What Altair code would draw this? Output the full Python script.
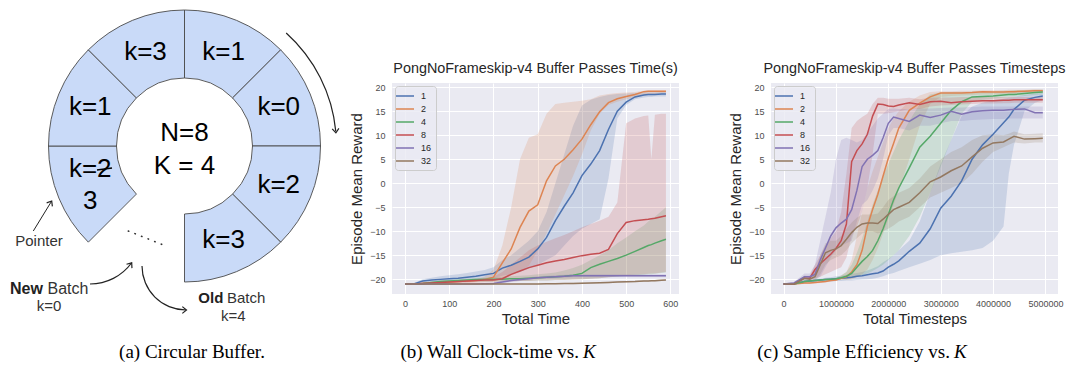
import math
import pandas as pd
import altair as alt

# ---------------- data ----------------
SERIES = ["1", "2", "4", "8", "16", "32"]
COLORS = ["#4c72b0", "#dd8452", "#55a868", "#c44e52", "#8172b3", "#937860"]

# circular buffer segments (index of 45-degree slot, clockwise from 12 o'clock)
seg_start = [0, 1, 2, 3, 5, 6, 7]
seg_end = [1, 2, 3, 4, 6, 7, 8]
seg_mid = [0.5, 1.5, 2.5, 3.5, 5.5, 6.5, 7.5]
seg_labels = ["k=1", "k=0", "k=2", "k=3", "k=2\n3", "k=1", "k=3"]

# ---- (b) wall clock time ----
time_x = [0, 20, 40, 60, 80, 100, 120, 140, 160, 180, 200, 220, 240, 260, 280, 300, 320,
          340, 360, 380, 400, 420, 440, 460, 480, 500, 520, 540, 550, 557, 565, 580, 590]

b_mean_1 = [-21, -21, -20.4, -20.2, -20.05, -19.9, -19.8, -19.6, -19.4, -19.1, -18.8, -17.7, -17.1, -16.3, -15.4, -13.7, -11.3, -7.8, -4.8, -2.0, 1.6, 4.0, 6.8, 11.2, 15.0, 16.9, 18.0, 18.4, 18.5, 18.5, 18.5, 18.6, 18.6]
b_lo_1 = [-21.1, -21.1, -20.8, -20.6, -20.5, -20.4, -20.3, -20.2, -20.1, -20.0, -19.8, -19.3, -19.0, -18.5, -17.8, -17.0, -16.0, -15.0, -13.0, -11.0, -9.5, -8.5, -7.5, 1.0, 13.5, 16.3, 17.5, 17.9, 18.0, 18.0, 18.1, 18.1, 18.1]
b_hi_1 = [-20.9, -20.8, -20.0, -19.7, -19.4, -19.2, -19.0, -18.7, -18.4, -18.1, -17.5, -16.0, -15.0, -13.5, -12.0, -10.0, -6.0, 0.0, 6.0, 12.0, 16.2, 17.4, 18.0, 18.4, 18.6, 18.7, 18.8, 18.9, 18.9, 18.9, 18.9, 19.0, 19.0]

b_mean_2 = [-21, -21, -20.9, -20.8, -20.7, -20.6, -20.5, -20.4, -20.3, -20.1, -19.6, -16.6, -13.7, -9.2, -5.8, -4.5, 0.5, 3.6, 5.0, 7.0, 9.2, 12.2, 14.9, 16.8, 17.6, 18.1, 18.5, 19.1, 19.2, 19.2, 19.2, 19.2, 19.2]
b_lo_2 = [-21.1, -21.1, -21.1, -21.0, -20.9, -20.9, -20.8, -20.7, -20.7, -20.6, -20.5, -20.0, -19.2, -18.3, -17.2, -14.0, -10.5, -6.5, -2.5, 1.5, 6.0, 11.0, 14.5, 16.3, 17.0, 17.5, 17.9, 18.3, 18.5, 18.6, 18.6, 18.7, 18.7]
b_hi_2 = [-20.9, -20.9, -20.7, -20.6, -20.5, -20.4, -20.3, -20.2, -20.0, -19.5, -18.0, -13.0, -5.0, 5.0, 9.5, 10.2, 14.5, 16.5, 16.8, 17.0, 17.2, 17.5, 18.3, 18.6, 18.8, 18.9, 19.0, 19.3, 19.4, 19.4, 19.4, 19.4, 19.4]

b_mean_4 = [-21, -21, -20.9, -20.7, -20.5, -20.4, -20.3, -20.2, -20.1, -20.1, -20.0, -20.0, -19.9, -19.9, -19.8, -19.7, -19.6, -19.5, -19.4, -19.2, -18.8, -17.6, -16.9, -16.3, -15.7, -15.0, -14.2, -13.4, -13.0, -12.8, -12.5, -12.0, -11.7]
b_lo_4 = [-21.1, -21.1, -21.1, -20.9, -20.8, -20.7, -20.6, -20.6, -20.5, -20.5, -20.5, -20.5, -20.4, -20.4, -20.4, -20.3, -20.3, -20.2, -20.2, -20.1, -20.0, -19.9, -19.8, -19.6, -19.5, -19.3, -19.2, -19.1, -19.0, -19.0, -18.9, -18.7, -18.6]
b_hi_4 = [-20.9, -20.9, -20.7, -20.5, -20.2, -20.1, -20.0, -19.9, -19.8, -19.7, -19.6, -19.5, -19.4, -19.3, -19.2, -19.0, -18.8, -18.6, -18.2, -17.7, -17.0, -16.0, -15.0, -14.0, -12.5, -11.3, -10.0, -8.8, -8.0, -7.5, -7.0, -5.8, -5.0]

b_mean_8 = [-21, -21, -20.9, -20.8, -20.7, -20.6, -20.5, -20.4, -20.3, -20.2, -20.2, -19.9, -19.0, -18.3, -17.6, -17.1, -16.6, -16.2, -15.9, -15.5, -15.1, -14.8, -14.6, -13.8, -10.5, -8.2, -7.8, -7.6, -7.5, -7.4, -7.3, -7.0, -6.8]
b_lo_8 = [-21.1, -21.1, -21.1, -21.1, -21.0, -20.9, -20.9, -20.8, -20.7, -20.7, -20.7, -20.5, -20.5, -20.4, -20.4, -20.3, -20.3, -20.2, -20.2, -20.1, -20.0, -19.9, -19.8, -19.6, -19.4, -19.2, -19.1, -19.0, -18.9, -18.8, -18.8, -18.6, -18.5]
b_hi_8 = [-20.9, -20.9, -20.7, -20.5, -20.4, -20.3, -20.2, -20.1, -20.0, -19.8, -19.5, -18.5, -17.0, -15.5, -14.0, -13.0, -12.2, -11.5, -10.8, -10.0, -9.2, -8.5, -7.8, -7.0, -4.0, 12.5, 13.5, 14.0, 14.1, 5.0, 14.3, 14.5, 14.5]

b_mean_16 = [-21, -21, -21, -21, -21, -21, -21, -21, -21, -20.95, -20.9, -20.6, -20.3, -20.1, -19.9, -19.7, -19.6, -19.5, -19.4, -19.3, -19.3, -19.3, -19.3, -19.3, -19.3, -19.3, -19.3, -19.3, -19.3, -19.3, -19.3, -19.3, -19.3]
b_lo_16 = [-21.1, -21.1, -21.1, -21.1, -21.1, -21.1, -21.1, -21.1, -21.1, -21.1, -21.1, -20.9, -20.6, -20.4, -20.2, -20.0, -19.9, -19.8, -19.7, -19.6, -19.6, -19.6, -19.6, -19.6, -19.6, -19.6, -19.6, -19.6, -19.6, -19.6, -19.6, -19.6, -19.6]
b_hi_16 = [-20.9, -20.9, -20.9, -20.9, -20.9, -20.9, -20.9, -20.9, -20.9, -20.8, -20.7, -20.3, -20.0, -19.8, -19.6, -19.4, -19.3, -19.2, -19.1, -19.0, -19.0, -19.0, -19.0, -19.0, -19.0, -19.0, -19.0, -19.0, -19.0, -19.0, -19.0, -19.0, -19.0]

b_mean_32 = [-21, -21, -21, -21, -21, -21, -21, -21, -21, -21, -21, -21, -21, -21, -21, -21, -20.98, -20.95, -20.92, -20.9, -20.85, -20.8, -20.75, -20.68, -20.6, -20.55, -20.5, -20.4, -20.38, -20.35, -20.32, -20.25, -20.2]
b_lo_32 = [-21.1, -21.1, -21.1, -21.1, -21.1, -21.1, -21.1, -21.1, -21.1, -21.1, -21.1, -21.1, -21.1, -21.1, -21.1, -21.1, -21.1, -21.1, -21.05, -21.05, -21.0, -20.95, -20.9, -20.85, -20.75, -20.7, -20.65, -20.55, -20.53, -20.5, -20.47, -20.4, -20.35]
b_hi_32 = [-20.9, -20.9, -20.9, -20.9, -20.9, -20.9, -20.9, -20.9, -20.9, -20.9, -20.9, -20.9, -20.9, -20.9, -20.9, -20.9, -20.85, -20.8, -20.78, -20.75, -20.7, -20.65, -20.6, -20.52, -20.45, -20.4, -20.35, -20.25, -20.23, -20.2, -20.17, -20.1, -20.05]

# ---- (c) timesteps ----
steps_x = [0, 200000, 400000, 500000, 600000, 700000, 800000, 900000, 1000000, 1100000,
           1200000, 1300000, 1400000, 1500000, 1600000, 1700000, 1800000, 1900000, 2000000,
           2100000, 2200000, 2400000, 2600000, 2800000, 3000000, 3200000, 3400000, 3600000,
           3800000, 4000000, 4200000, 4300000, 4400000, 4600000, 4800000, 4950000]

c_mean_1 = [-21, -21, -20.5, -20.4, -20.3, -20.2, -20.1, -20.0, -19.9, -19.8, -19.7, -19.6, -19.4, -19.3, -19.1, -18.9, -18.7, -18.3, -17.5, -16.9, -16.2, -14.2, -12.5, -9.5, -5.2, -2.7, 0.5, 5.0, 8.0, 10.2, 12.6, 13.8, 15.4, 17.3, 17.9, 18.2]
c_lo_1 = [-21.1, -21.1, -20.8, -20.7, -20.6, -20.6, -20.5, -20.5, -20.4, -20.4, -20.3, -20.3, -20.2, -20.1, -20.0, -19.9, -19.7, -19.4, -19.0, -18.7, -18.3, -17.5, -16.8, -16.0, -15.0, -14.6, -14.3, -14.0, -13.5, -12.0, -9.0, 2.0, 8.0, 15.0, 16.8, 17.3]
c_hi_1 = [-20.9, -20.9, -20.2, -20.1, -20.0, -19.9, -19.7, -19.6, -19.4, -19.3, -19.1, -18.9, -18.7, -18.5, -18.2, -17.8, -17.3, -16.5, -15.8, -15.0, -14.0, -12.0, -8.0, -2.0, 4.0, 9.0, 14.0, 16.0, 16.8, 17.3, 17.6, 17.8, 18.0, 18.4, 18.7, 18.8]

c_mean_2 = [-21, -21, -20.8, -20.8, -20.7, -20.6, -20.5, -20.3, -20.2, -19.8, -19.5, -18.5, -17.0, -14.0, -9.0, -5.5, -2.3, 1.5, 5.2, 8.3, 11.5, 15.2, 16.7, 18.0, 18.8, 18.8, 18.8, 18.9, 19.1, 19.0, 19.0, 19.1, 19.1, 19.2, 19.3, 19.3]
c_lo_2 = [-21.1, -21.1, -21.0, -21.0, -20.9, -20.8, -20.7, -20.5, -20.4, -20.1, -20.2, -20.0, -19.6, -19.0, -18.0, -16.0, -13.5, -10.5, -7.5, -4.5, -1.5, 5.0, 12.0, 16.5, 18.0, 18.2, 18.3, 18.4, 18.5, 18.5, 18.5, 18.6, 18.6, 18.7, 18.8, 18.8]
c_hi_2 = [-20.9, -20.9, -20.6, -20.6, -20.5, -20.4, -20.3, -20.1, -19.9, -19.3, -18.5, -16.0, -11.0, -6.0, -1.0, 2.5, 5.5, 8.5, 11.5, 13.5, 15.0, 17.0, 18.3, 19.0, 19.2, 19.2, 19.3, 19.3, 19.4, 19.4, 19.4, 19.5, 19.5, 19.5, 19.6, 19.6]

c_mean_4 = [-21, -21, -20.5, -20.4, -20.3, -20.2, -20.1, -20.0, -19.9, -19.7, -19.4, -18.8, -17.5, -16.3, -15.3, -14.0, -12.0, -9.5, -6.5, -3.5, -1.0, 3.2, 7.5, 9.8, 12.5, 15.2, 17.0, 18.0, 18.1, 18.2, 18.4, 18.5, 18.5, 18.7, 18.9, 19.0]
c_lo_4 = [-21.1, -21.1, -20.7, -20.6, -20.5, -20.4, -20.3, -20.2, -20.1, -20.0, -20.0, -19.8, -19.5, -19.2, -18.8, -18.3, -17.7, -17.0, -16.0, -15.0, -14.0, -11.0, -7.0, -2.0, 3.5, 9.0, 14.5, 17.0, 17.4, 17.6, 17.8, 17.9, 18.0, 18.2, 18.4, 18.5]
c_hi_4 = [-20.9, -20.9, -20.3, -20.2, -20.1, -20.0, -19.9, -19.8, -19.7, -19.2, -18.5, -17.0, -14.5, -11.5, -8.0, -4.5, -1.5, 1.5, 4.0, 6.5, 9.0, 13.0, 16.5, 18.5, 18.9, 19.0, 19.0, 19.1, 19.2, 19.2, 19.3, 19.3, 19.4, 19.4, 19.5, 19.5]

c_mean_8 = [-21, -21, -19.8, -19.8, -18.0, -16.8, -15.8, -14.8, -13.6, -12.0, -8.5, 4.5, 6.8, 8.2, 10.2, 14.0, 16.5, 16.4, 16.1, 16.0, 16.3, 16.8, 16.4, 17.0, 17.1, 16.8, 17.0, 17.1, 17.2, 17.2, 17.3, 17.3, 17.4, 17.4, 17.4, 17.4]
c_lo_8 = [-21.1, -21.1, -20.1, -20.1, -19.8, -19.5, -19.0, -18.5, -18.0, -17.5, -15.5, -11.0, -9.0, -6.0, -1.0, 6.0, 14.5, 14.5, 14.6, 14.8, 15.0, 15.5, 15.5, 16.0, 16.2, 16.3, 16.4, 16.5, 16.6, 16.6, 16.7, 16.7, 16.8, 16.8, 16.8, 16.8]
c_hi_8 = [-20.9, -20.9, -19.3, -19.3, -17.0, -15.0, -13.0, -11.5, -10.0, -6.0, 2.0, 11.5, 13.0, 13.8, 14.5, 16.5, 17.8, 17.8, 17.6, 17.6, 17.6, 17.8, 17.5, 17.8, 17.9, 17.9, 18.0, 18.0, 18.0, 18.0, 18.0, 18.0, 18.0, 18.0, 18.0, 18.0]

c_mean_16 = [-21, -20.8, -19.5, -19.5, -19.0, -16.0, -13.5, -11.0, -9.3, -8.3, -7.5, -5.5, -1.5, 3.5, 5.0, 5.8, 6.8, 9.5, 12.5, 13.8, 13.5, 12.9, 14.2, 13.7, 14.2, 15.0, 14.4, 14.9, 15.1, 15.2, 15.2, 15.3, 15.4, 15.5, 14.7, 14.7]
c_lo_16 = [-21.1, -21.0, -20.2, -20.2, -20.3, -19.5, -17.5, -15.5, -14.0, -13.0, -12.5, -12.0, -8.0, -4.5, -3.5, -1.5, 1.0, 5.0, 10.0, 11.5, 11.5, 11.0, 12.0, 12.0, 12.5, 13.0, 13.0, 13.2, 13.3, 13.4, 13.4, 13.5, 13.5, 13.5, 13.5, 13.5]
c_hi_16 = [-20.9, -20.6, -18.8, -18.8, -17.0, -12.0, -7.0, -2.0, 5.0, 9.0, 9.5, 9.0, 8.5, 9.0, 10.5, 12.0, 13.5, 14.5, 15.5, 15.6, 15.5, 15.5, 15.6, 15.6, 15.7, 15.8, 15.8, 15.9, 16.0, 16.0, 16.0, 16.0, 16.0, 16.0, 16.0, 16.0]

c_mean_32 = [-21, -21, -19.8, -20.0, -19.5, -17.0, -14.5, -14.0, -13.7, -13.0, -11.7, -10.3, -9.2, -8.5, -8.3, -8.3, -8.4, -7.5, -6.5, -5.5, -5.0, -4.0, -2.0, 0.3, 1.3, 2.6, 3.6, 5.5, 7.3, 8.4, 8.6, 9.2, 9.8, 9.2, 9.3, 9.4]
c_lo_32 = [-21.1, -21.1, -20.3, -20.5, -20.3, -19.0, -17.0, -16.0, -15.5, -15.0, -14.0, -12.5, -11.5, -10.5, -10.0, -10.0, -10.5, -10.0, -9.5, -8.8, -8.0, -7.0, -5.0, -3.0, -2.0, -1.0, 0.0, 2.0, 4.5, 6.5, 7.5, 8.0, 8.5, 8.3, 8.5, 8.5]
c_hi_32 = [-20.9, -20.9, -19.3, -19.5, -18.5, -15.0, -12.5, -12.0, -12.0, -11.0, -9.5, -8.2, -7.2, -6.5, -6.5, -6.5, -6.3, -5.0, -3.5, -2.7, -2.0, -1.0, 1.0, 3.5, 5.0, 6.5, 7.5, 9.0, 10.0, 10.2, 10.0, 10.3, 10.8, 10.2, 10.3, 10.4]

y_ticks = [-20, -15, -10, -5, 0, 5, 10, 15, 20]
time_ticks = [0, 100, 200, 300, 400, 500, 600]
step_ticks = [0, 1000000, 2000000, 3000000, 4000000, 5000000]

SANS = "Liberation Sans"
SERIF = "Liberation Serif"


def long_frame(xs, means, los, his):
    rows = []
    for name, m, lo, hi in zip(SERIES, means, los, his):
        for x, a, b, c in zip(xs, m, lo, hi):
            rows.append({"x": x, "series": name, "mean": a, "lo": b, "hi": c})
    return pd.DataFrame(rows)


df_b = long_frame(time_x,
                  [b_mean_1, b_mean_2, b_mean_4, b_mean_8, b_mean_16, b_mean_32],
                  [b_lo_1, b_lo_2, b_lo_4, b_lo_8, b_lo_16, b_lo_32],
                  [b_hi_1, b_hi_2, b_hi_4, b_hi_8, b_hi_16, b_hi_32])
df_c = long_frame(steps_x,
                  [c_mean_1, c_mean_2, c_mean_4, c_mean_8, c_mean_16, c_mean_32],
                  [c_lo_1, c_lo_2, c_lo_4, c_lo_8, c_lo_16, c_lo_32],
                  [c_hi_1, c_hi_2, c_hi_4, c_hi_8, c_hi_16, c_hi_32])

PW, PH = 287, 211


def curve_panel(df, title, xtitle, xdomain, xticks, xfmt, caption, cap_x):
    cscale = alt.Scale(domain=SERIES, range=COLORS)
    xscale = alt.Scale(domain=xdomain, nice=False, zero=False)
    yscale = alt.Scale(domain=[-23.1, 20.9], nice=False, zero=False)
    legend = alt.Legend(title=None, orient="top-left", offset=3,
                        symbolType="M -1.8 0 L 1.8 0", symbolSize=100,
                        symbolStrokeWidth=1.5, symbolOpacity=1,
                        labelFontSize=9, labelFont=SANS, labelColor="#262626",
                        fillColor="rgba(234,234,242,0.8)", strokeColor="#cccccc",
                        cornerRadius=3, padding=4, rowPadding=2, labelOffset=10)
    axis_common = dict(grid=True, gridColor="white", gridWidth=1, domain=False,
                       ticks=False, labelFontSize=9, labelFont=SANS,
                       labelColor="#4d4d4d", titleFontSize=15, titleFont=SANS,
                       titleFontWeight="normal", titleColor="#262626")
    xaxis = alt.Axis(values=xticks, format=xfmt, title=xtitle,
                     labelPadding=5, titlePadding=3, **axis_common)
    yaxis = alt.Axis(values=y_ticks, title="Episode Mean Reward",
                     labelPadding=7, titlePadding=5, **axis_common)
    color = alt.Color("series:N", scale=cscale, sort=SERIES, legend=legend)
    base = alt.Chart(df)
    band = base.mark_area(opacity=0.2, interpolate="linear").encode(
        x=alt.X("x:Q", scale=xscale, axis=xaxis),
        y=alt.Y("lo:Q", scale=yscale, axis=yaxis, stack=None),
        y2="hi:Q",
        color=color,
    )
    line = base.mark_line(strokeWidth=1.5).encode(
        x=alt.X("x:Q", scale=xscale, axis=xaxis),
        y=alt.Y("mean:Q", scale=yscale, axis=yaxis),
        color=color,
    )
    capdf = pd.DataFrame({"t": [caption], "k": ["K"]})
    cap1 = alt.Chart(capdf).mark_text(font=SERIF, fontSize=19, align="right",
                                      baseline="middle", color="black").encode(
        text="t:N", x=alt.value(cap_x), y=alt.value(269))
    cap2 = alt.Chart(capdf).mark_text(font=SERIF, fontSize=19, fontStyle="italic",
                                      align="left", baseline="middle", color="black").encode(
        text="k:N", x=alt.value(cap_x + 4), y=alt.value(269))
    return alt.layer(band, line, cap1, cap2).properties(
        width=PW, height=PH,
        title=alt.Title(title, fontSize=14.4, fontWeight="normal", font=SANS,
                        color="#262626", offset=7, anchor="middle"),
        view=alt.ViewBackground(fill="#eaeaf2", stroke=None),
    )


panel_b = curve_panel(df_b, "PongNoFrameskip-v4 Buffer Passes Time(s)", "Total Time",
                      [-29.5, 619.5], time_ticks, "d", "(b) Wall Clock-time vs.", 187)
panel_c = curve_panel(df_c, "PongNoFrameskip-v4 Buffer Passes Timesteps", "Total Timesteps",
                      [-240000, 5240000], step_ticks, "d", "(c) Sample Efficiency vs.", 179)

# ---------------- panel (a): circular buffer ----------------
CX, CY = 176.5, 63
seg_df = pd.DataFrame({"start": seg_start, "end": seg_end, "mid": seg_mid, "label": seg_labels})
ann = pd.DataFrame({"k": [0]})
theta_scale = alt.Scale(domain=[0, 8], range=[0, 2 * math.pi])

ring = alt.Chart(seg_df).mark_arc(innerRadius=68, outerRadius=136, fill="#c9daf8",
                                  stroke="#4a4a4a", strokeWidth=0.9).encode(
    theta=alt.Theta("start:Q", scale=theta_scale, stack=None),
    theta2="end:Q",
    x=alt.value(CX), y=alt.value(CY),
)
ring_text_1 = alt.Chart(seg_df).transform_filter(
    "indexof(datum.label, '\\n') < 0").mark_text(
    font=SANS, fontSize=26, color="black", baseline="middle").encode(
    theta=alt.Theta("mid:Q", scale=theta_scale, stack=None),
    radius=alt.value(102),
    text="label:N",
    x=alt.value(CX), y=alt.value(CY),
)
ring_text_2 = alt.Chart(seg_df).transform_filter(
    "indexof(datum.label, '\\n') >= 0").mark_text(
    font=SANS, fontSize=26, color="black", baseline="middle", lineBreak="\n",
    lineHeight=32, dy=-16).encode(
    theta=alt.Theta("mid:Q", scale=theta_scale, stack=None),
    radius=alt.value(102),
    text="label:N",
    x=alt.value(CX), y=alt.value(CY),
)
center_text = alt.Chart(pd.DataFrame({"t": ["N=8\nK = 4"]})).mark_text(
    font=SANS, fontSize=26, color="black", lineBreak="\n", lineHeight=33,
    baseline="middle").encode(text="t:N", x=alt.value(CX), y=alt.value(50))
strike = alt.Chart(ann).mark_rule(color="black", strokeWidth=1.6).encode(
    x=alt.value(89), y=alt.value(87), x2=alt.value(104), y2=alt.value(85))


def arc_line(cx, cy, r, t0, t1):
    return alt.Chart(ann).mark_arc(innerRadius=r - 0.6, outerRadius=r + 0.6,
                                   theta=math.radians(t0), theta2=math.radians(t1),
                                   fill="#222222").encode(x=alt.value(cx), y=alt.value(cy))


def head(x, y, ang, down=False):
    path = "M -0.8 -1 L 0 0 L 0.8 -1" if down else "M -0.8 1 L 0 0 L 0.8 1"
    return alt.Chart(ann).mark_point(shape=path, filled=False, stroke="#222222",
                                     strokeWidth=1.2, size=70, angle=ang, opacity=1).encode(
        x=alt.value(x), y=alt.value(y))


rot_arrow = arc_line(CX, CY, 152, 42, 84.5)
rot_head = head(327.9, 49.8, 355, down=True)
pointer_line = alt.Chart(ann).mark_rule(color="#222222", strokeWidth=1).encode(
    x=alt.value(25.3), y=alt.value(148), x2=alt.value(43.7), y2=alt.value(118))
pointer_head = head(43.7, 118, 31.5)
dots = alt.Chart(ann).mark_rule(color="#333333", strokeWidth=1.6, strokeCap="round",
                                strokeDash=[0.5, 6.6]).encode(
    x=alt.value(120.3), y=alt.value(148), x2=alt.value(153.7), y2=alt.value(161.3))
new_curve = arc_line(82, 149.5, 51.5, 126, 180)
new_head = head(123.7, 179.8, 36)
old_curve = arc_line(178, 183, 44, 180, 270)
old_head = head(178.5, 227, 90)


def txt(s, x, y, size=15, weight="normal", align="center", font=SANS, color="#333333"):
    return alt.Chart(pd.DataFrame({"t": [s]})).mark_text(
        font=font, fontSize=size, fontWeight=weight, align=align, baseline="middle",
        color=color).encode(text="t:N", x=alt.value(x), y=alt.value(y))


labels_a = [
    txt("Pointer", 31, 158),
    txt("New", 2, 206, size=16, weight="bold", align="left", color="#222222"),
    txt("Batch", 39.5, 206, size=16, align="left"),
    txt("k=0", 41, 223),
    txt("Old", 190.3, 214.7, size=15, weight="bold", align="left", color="#222222"),
    txt("Batch", 219, 214.7, size=15, align="left"),
    txt("k=4", 225.3, 233),
    txt("(a) Circular Buffer.", 184, 269, size=19, font=SERIF, color="black"),
]

panel_a = alt.layer(ring, ring_text_1, ring_text_2, center_text, strike, rot_arrow, rot_head,
                    pointer_line, pointer_head, dots, new_curve, new_head,
                    old_curve, old_head, *labels_a).properties(width=292, height=PH)

chart = alt.hconcat(panel_a, panel_b, panel_c, spacing=92, bounds="flush",
                    padding={"left": 0, "top": 0, "right": 0, "bottom": 0}
                    ).resolve_scale(color="independent", theta="independent"
                    ).resolve_legend(color="independent"
                    ).configure(font=SANS).configure_view(stroke=None)

chart.save("out.html", embed_options={"renderer": "svg", "actions": False})
